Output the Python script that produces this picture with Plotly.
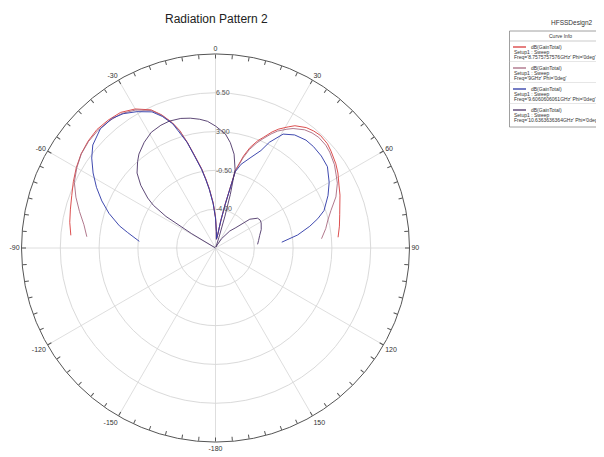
import plotly.graph_objects as go

W, H = 604, 457

# ---------------- data ----------------
theta_f1 = [-85, -80, -75, -70, -65, -60, -55, -50, -45, -40, -35, -30, -25, -22, -19, -17, -15, -13, -10, -8, -6, -3, 0, 3, 6, 9, 11, 12.5, 14.5, 17, 19, 21.5, 23.5, 26, 28, 31, 33, 37, 40, 43, 47, 50, 55, 58.5, 63, 67, 70.5, 75, 80, 85]
gain_f1 = [5.6, 5.85, 6.05, 6.3, 6.65, 7.0, 7.3, 7.5, 7.62, 7.56, 7.43, 6.98, 6.25, 5.45, 4.45, 3.6, 2.4, 1.2, -0.2, -1.2, -2.1, -3.4, -4.7, -6.0, -6.7, -6.4, -5.0, -3.4, -0.2, 1.2, 2.1, 2.9, 3.4, 4.15, 4.65, 5.25, 5.65, 6.1, 6.28, 6.38, 6.3, 6.1, 5.75, 5.45, 5.0, 4.7, 4.4, 4.1, 3.85, 3.6]

theta_f2 = [-85, -80, -75, -70, -65, -60, -55, -50, -45, -40, -35, -30, -25, -22, -19, -17, -15, -13, -10, -8, -6, -3, 0, 3, 6, 9, 11, 12.5, 14.5, 17, 19, 21.5, 23.5, 26, 28, 31, 33, 37, 40, 43, 47, 50, 55, 58.5, 62, 67, 72, 76, 80, 85]
gain_f2 = [4.15, 4.55, 5.2, 5.9, 6.55, 6.95, 7.28, 7.45, 7.5, 7.45, 7.3, 6.88, 6.18, 5.4, 4.4, 3.55, 2.35, 1.15, -0.25, -1.25, -2.15, -3.45, -4.75, -6.0, -6.7, -6.4, -5.0, -3.45, -0.3, 1.0, 1.9, 2.7, 3.25, 3.95, 4.45, 5.0, 5.35, 5.85, 6.05, 6.15, 6.1, 5.95, 5.6, 5.25, 4.95, 4.3, 3.45, 2.95, 2.6, 2.1]

theta_f3 = [-85, -80, -77, -72, -67.5, -63, -58.5, -54, -50, -44, -38.5, -34.5, -30, -25, -22, -19, -15, -13, -10, -8, -6, -3, 0, 3, 6, 9, 11, 12.5, 14.5, 17, 21, 25, 27, 30.7, 35, 40, 44, 49, 54, 60, 65, 71, 74, 77, 81, 85]
gain_f3 = [-0.6, 0.55, 1.4, 2.6, 3.6, 4.55, 5.45, 6.3, 6.95, 7.45, 7.45, 7.2, 6.7, 6.05, 5.3, 4.35, 2.35, 1.1, -0.3, -1.3, -2.2, -3.5, -4.8, -6.0, -6.7, -6.4, -5.0, -3.5, -0.4, 0.4, 1.2, 2.2, 3.2, 4.45, 4.95, 5.2, 5.22, 5.15, 4.98, 4.34, 3.7, 2.85, 2.1, 1.23, 0.0, -1.5]

theta_f4 = [-85, -75, -65, -61, -59, -57.5, -55.5, -53.6, -50, -46.3, -42, -39.2, -34, -29, -24, -20, -15, -11, -7, -3.6, 0, 4.9, 8, 11.2, 14, 15.5, 16.5, 18, 22, 27, 33, 40, 45, 50, 54.7, 58, 61.2, 68, 74.2, 80, 85]
gain_f4 = [-7.5, -7.5, -7.5, -7.5, -5.0, -2.2, -0.7, 0.1, 1.3, 2.29, 3.0, 3.43, 4.0, 4.44, 4.62, 4.68, 4.6, 4.43, 4.2, 3.95, 3.5, 2.84, 2.1, 1.13, -0.2, -2.5, -4.5, -6.5, -7.4, -7.3, -6.5, -5.5, -4.9, -3.46, -2.85, -2.75, -2.8, -3.05, -3.36, -3.55, -3.69]

freq_labels = ["Freq='8.7575757576GHz' Phi='0deg'",
               "Freq='9GHz' Phi='0deg'",
               "Freq='9.6060606061GHz' Phi='0deg'",
               "Freq='10.6363636364GHz' Phi='0deg'"]
curve_colors = ["#d83c3c", "#a86a80", "#2a36a6", "#4c3468"]

radial_range = [-7.5, 10.0]
radial_ticks = [-4.0, -0.5, 3.0, 6.5]
spoke_angles = list(range(0, 360, 30))
minor_step = 5

# ---------------- figure ----------------
FONT = "Liberation Sans, Arial, sans-serif"
fig = go.Figure()

# spokes of the angular grid
sp_r, sp_t = [], []
for a in spoke_angles:
    sp_r += [radial_range[0], radial_range[1], None]
    sp_t += [a, a, None]
fig.add_trace(go.Scatterpolar(r=sp_r, theta=sp_t, mode="lines",
                              line=dict(color="#d6d6d6", width=0.8),
                              hoverinfo="skip", showlegend=False))

series = [(theta_f1, gain_f1), (theta_f2, gain_f2), (theta_f3, gain_f3), (theta_f4, gain_f4)]
for (th, g), name, col in zip(series, freq_labels, curve_colors):
    assert len(th) == len(g)
    fig.add_trace(go.Scatterpolar(r=g, theta=th, mode="lines", name=name,
                                  line=dict(color=col, width=0.9),
                                  showlegend=False))

tick_vals = list(range(0, 360, minor_step))
tick_text = []
for a in tick_vals:
    if a % 30 == 0:
        tick_text.append(str(a if a < 180 else a - 360))
    else:
        tick_text.append("")

R = 194
cx, cy = 207.5, 240
fig.update_layout(
    width=W, height=H,
    margin=dict(l=0, r=0, t=0, b=0),
    paper_bgcolor="white",
    font=dict(family=FONT, color="#333"),
    polar=dict(
        domain=dict(x=[(cx - R) / W, (cx + R) / W], y=[1 - (cy + R) / H, 1 - (cy - R) / H]),
        bgcolor="white",
        angularaxis=dict(rotation=90, direction="clockwise",
                         tickmode="array", tickvals=tick_vals, ticktext=tick_text,
                         ticks="inside", ticklen=4, tickcolor="#555", tickwidth=1,
                         showgrid=False, showline=True, linecolor="#555", linewidth=1,
                         tickfont=dict(size=7, color="#333")),
        radialaxis=dict(range=radial_range, tickmode="array", tickvals=radial_ticks,
                        ticktext=["%.2f" % v for v in radial_ticks],
                        angle=90, tickangle=90, side="clockwise",
                        showline=False, ticks="", gridcolor="#dadada", gridwidth=0.8,
                        tickfont=dict(size=7, color="#555")),
    ),
)

def px(x):
    return x / W

def py(y):
    return 1 - y / H

LF = 5
ann = []
ann.append(dict(x=px(208), y=py(11), text="Radiation Pattern 2", showarrow=False,
                xref="paper", yref="paper", xanchor="center", yanchor="middle",
                font=dict(size=12, color="#222", family=FONT)))
ann.append(dict(x=px(564), y=py(15), text="HFSSDesign2", showarrow=False,
                xref="paper", yref="paper", xanchor="center", yanchor="middle",
                font=dict(size=6.5, color="#333", family=FONT)))
ann.append(dict(x=px(593), y=py(15), text="⊿", showarrow=False,
                xref="paper", yref="paper", xanchor="center", yanchor="middle",
                font=dict(size=7, color="#d08a20", family="DejaVu Sans")))

shapes = []
# legend box
shapes.append(dict(type="rect", xref="paper", yref="paper", x0=px(501.5), x1=px(603.5),
                   y0=py(23), y1=py(119), line=dict(color="#888", width=0.8), fillcolor="white"))
shapes.append(dict(type="line", xref="paper", yref="paper", x0=px(501.5), x1=px(603.5),
                   y0=py(33), y1=py(33), line=dict(color="#aaa", width=0.6)))
ann.append(dict(x=px(552), y=py(28), text="Curve Info", showarrow=False,
                xref="paper", yref="paper", xanchor="center", yanchor="middle",
                font=dict(size=LF, color="#333", family=FONT)))

top = 39
step = 21
for i, (lab, col) in enumerate(zip(freq_labels, curve_colors)):
    y0 = top + i * step
    shapes.append(dict(type="line", xref="paper", yref="paper", x0=px(505), x1=px(518),
                       y0=py(y0), y1=py(y0), line=dict(color=col, width=1.3)))
    ann.append(dict(x=px(521), y=py(y0), text="dB(GainTotal)", showarrow=False,
                    xref="paper", yref="paper", xanchor="left", yanchor="middle",
                    font=dict(size=LF, color="#333", family=FONT)))
    ann.append(dict(x=px(504), y=py(y0 + 5), text="Setup1 : Sweep", showarrow=False,
                    xref="paper", yref="paper", xanchor="left", yanchor="middle",
                    font=dict(size=LF, color="#333", family=FONT)))
    ann.append(dict(x=px(504), y=py(y0 + 10), text=lab, showarrow=False,
                    xref="paper", yref="paper", xanchor="left", yanchor="middle",
                    font=dict(size=LF, color="#333", family=FONT)))
    if i < 3:
        shapes.append(dict(type="line", xref="paper", yref="paper", x0=px(501.5), x1=px(603.5),
                           y0=py(y0 + 14.5), y1=py(y0 + 14.5), line=dict(color="#ccc", width=0.5)))

fig.update_layout(annotations=ann, shapes=shapes)
fig.write_html("out.html")
